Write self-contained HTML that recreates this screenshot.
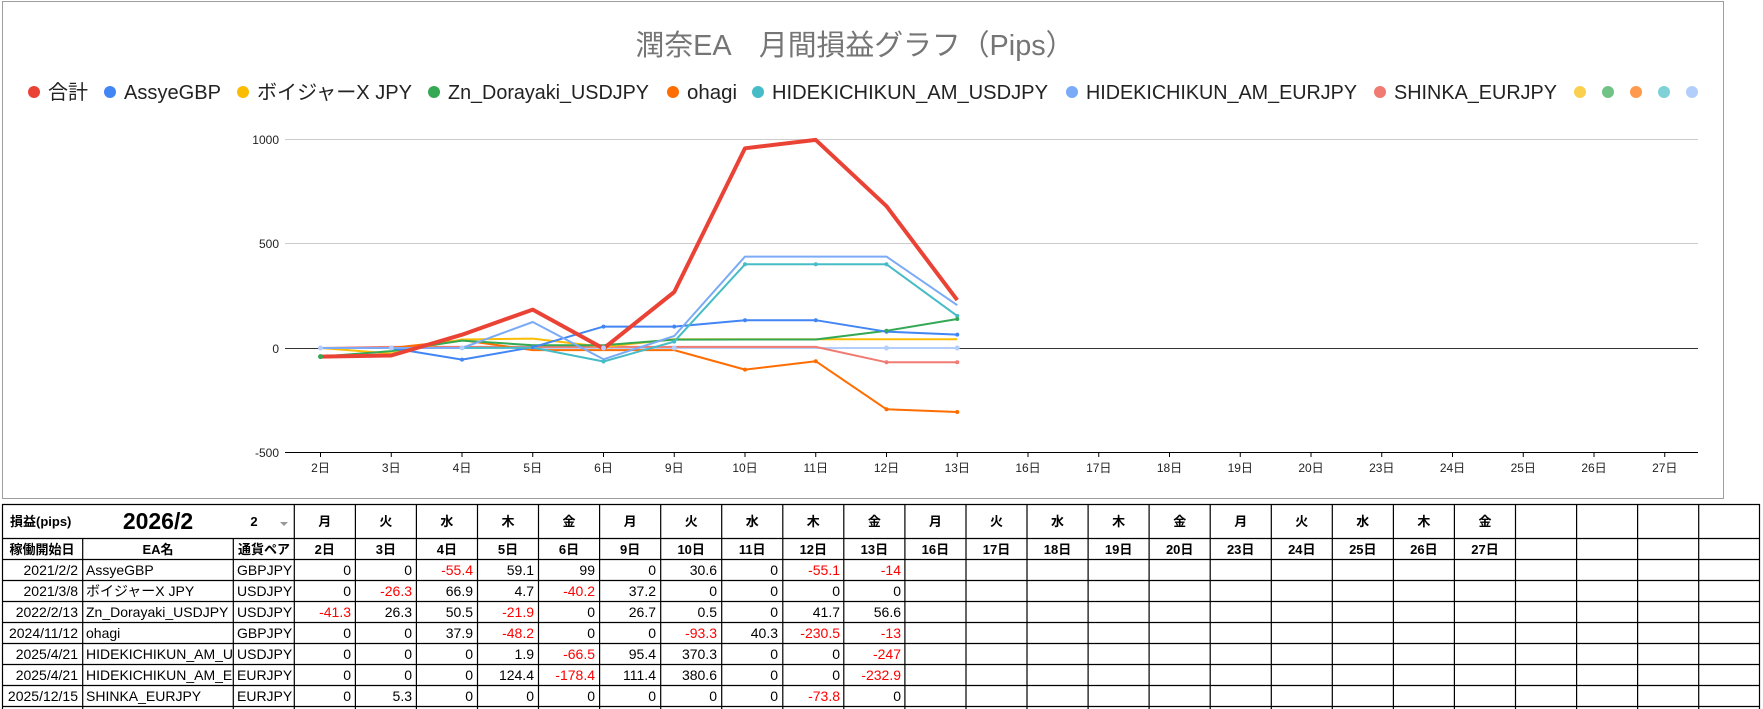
<!DOCTYPE html>
<html><head><meta charset="utf-8"><style>
html,body{margin:0;padding:0;background:#fff;width:1763px;height:709px;overflow:hidden}
svg{display:block;font-family:"Liberation Sans","Noto Sans CJK JP",sans-serif}
.ax{font-size:12px;fill:#222}
.lg{font-size:20px;fill:#222}
.h{font-size:13px;font-weight:bold;fill:#000;text-anchor:middle}
.d{font-size:14px;fill:#000}
.r{text-anchor:end}
.n{fill:#ff0000}
</style></head><body>
<svg width="1763" height="709" viewBox="0 0 1763 709">
<rect x="2.5" y="1.5" width="1721" height="497" fill="#fff" stroke="#9e9e9e"/>
<text x="855" y="55" text-anchor="middle" font-size="29" fill="#757575" textLength="439" lengthAdjust="spacingAndGlyphs">潤奈EA　月間損益グラフ（Pips）</text>
<g class="lg">
<circle cx="34" cy="92" r="6" fill="#ea4335"/><text x="48" y="99">合計</text>
<circle cx="110" cy="92" r="6" fill="#4285f4"/><text x="124" y="99" textLength="97" lengthAdjust="spacingAndGlyphs">AssyeGBP</text>
<circle cx="243" cy="92" r="6" fill="#fbbc04"/><text x="257" y="99" textLength="155" lengthAdjust="spacingAndGlyphs">ボイジャーX JPY</text>
<circle cx="434" cy="92" r="6" fill="#34a853"/><text x="448" y="99" textLength="201" lengthAdjust="spacingAndGlyphs">Zn_Dorayaki_USDJPY</text>
<circle cx="673" cy="92" r="6" fill="#ff6d01"/><text x="687" y="99" textLength="50" lengthAdjust="spacingAndGlyphs">ohagi</text>
<circle cx="758" cy="92" r="6" fill="#46bdc6"/><text x="772" y="99" textLength="276" lengthAdjust="spacingAndGlyphs">HIDEKICHIKUN_AM_USDJPY</text>
<circle cx="1072" cy="92" r="6" fill="#7baaf7"/><text x="1086" y="99" textLength="271" lengthAdjust="spacingAndGlyphs">HIDEKICHIKUN_AM_EURJPY</text>
<circle cx="1380" cy="92" r="6" fill="#f07b72"/><text x="1394" y="99" textLength="163" lengthAdjust="spacingAndGlyphs">SHINKA_EURJPY</text>
<circle cx="1580" cy="92" r="6" fill="#fcd04f"/><circle cx="1608" cy="92" r="6" fill="#71c287"/><circle cx="1636" cy="92" r="6" fill="#ff994d"/><circle cx="1664" cy="92" r="6" fill="#7ed1d7"/><circle cx="1692" cy="92" r="6" fill="#b3cefb"/>
</g>
<line x1="285" y1="139.5" x2="1698" y2="139.5" stroke="#ccc"/>
<line x1="285" y1="243.5" x2="1698" y2="243.5" stroke="#ccc"/>
<line x1="285" y1="348.5" x2="1698" y2="348.5" stroke="#333"/>
<line x1="285" y1="452.5" x2="1698" y2="452.5" stroke="#000"/>
<g class="ax" text-anchor="end"><text x="279" y="144">1000</text><text x="279" y="248">500</text><text x="279" y="353">0</text><text x="279" y="457">-500</text></g>
<g stroke="#000">
<path d="M320.5 452v5M391.25 452v5M462 452v5M532.75 452v5M603.5 452v5M674.25 452v5M745 452v5M815.75 452v5M886.5 452v5M957.25 452v5M1028 452v5M1098.75 452v5M1169.5 452v5M1240.25 452v5M1311 452v5M1381.75 452v5M1452.5 452v5M1523.25 452v5M1594 452v5M1664.75 452v5"/>
</g>
<g class="ax" text-anchor="middle">
<text x="320.5" y="472">2日</text><text x="391.25" y="472">3日</text><text x="462" y="472">4日</text><text x="532.75" y="472">5日</text><text x="603.5" y="472">6日</text><text x="674.25" y="472">9日</text><text x="745" y="472">10日</text><text x="815.75" y="472">11日</text><text x="886.5" y="472">12日</text><text x="957.25" y="472">13日</text><text x="1028" y="472">16日</text><text x="1098.75" y="472">17日</text><text x="1169.5" y="472">18日</text><text x="1240.25" y="472">19日</text><text x="1311" y="472">20日</text><text x="1381.75" y="472">23日</text><text x="1452.5" y="472">24日</text><text x="1523.25" y="472">25日</text><text x="1594" y="472">26日</text><text x="1664.75" y="472">27日</text>
</g>
<g fill="none" stroke-width="2" stroke-linejoin="round">
<polyline stroke="#b3cefb" points="320.5,348 391.25,348 462,348 532.75,348 603.5,348 674.25,348 745,348 815.75,348 886.5,348 957.25,348"/>
<polyline stroke="#f07b72" points="320.5,348 391.25,346.9 462,346.9 532.75,346.9 603.5,346.9 674.25,346.9 745,346.9 815.75,346.9 886.5,362.3 957.25,362.3"/>
<polyline stroke="#ff6d01" points="320.5,348 391.25,348 462,340.1 532.75,350.1 603.5,350.1 674.25,350.1 745,369.6 815.75,361.2 886.5,409.3 957.25,412"/>
<polyline stroke="#fbbc04" points="320.5,348 391.25,353.5 462,339.5 532.75,338.6 603.5,346.9 674.25,339.2 745,339.2 815.75,339.2 886.5,339.2 957.25,339.2"/>
<polyline stroke="#34a853" points="320.5,356.6 391.25,351.1 462,340.6 532.75,345.2 603.5,345.2 674.25,339.6 745,339.5 815.75,339.5 886.5,330.8 957.25,319"/>
<polyline stroke="#4285f4" points="320.5,348 391.25,348 462,359.6 532.75,347.2 603.5,326.6 674.25,326.6 745,320.2 815.75,320.2 886.5,331.7 957.25,334.6"/>
<polyline stroke="#46bdc6" points="320.5,348 391.25,348 462,348 532.75,347.6 603.5,361.5 674.25,341.6 745,264.3 815.75,264.3 886.5,264.3 957.25,315.9"/>
<polyline stroke="#7baaf7" points="320.5,348 391.25,348 462,348 532.75,322 603.5,359.3 674.25,336 745,256.6 815.75,256.6 886.5,256.6 957.25,305.2"/>
<polyline stroke="#ea4335" stroke-width="4" points="320.5,356.6 391.25,355.5 462,334.7 532.75,309.6 603.5,348.5 674.25,292 745,148.3 815.75,139.9 886.5,206.2 957.25,300.1"/>
</g>
<g>
<g fill="#4285f4"><circle cx="320.5" cy="348" r="2"/><circle cx="391.25" cy="348" r="2"/><circle cx="462" cy="359.6" r="2"/><circle cx="532.75" cy="347.2" r="2"/><circle cx="603.5" cy="326.6" r="2"/><circle cx="674.25" cy="326.6" r="2"/><circle cx="745" cy="320.2" r="2"/><circle cx="815.75" cy="320.2" r="2"/><circle cx="886.5" cy="331.7" r="2"/><circle cx="957.25" cy="334.6" r="2"/></g>
<g fill="#46bdc6"><circle cx="603.5" cy="361.5" r="2"/><circle cx="674.25" cy="341.6" r="2"/><circle cx="745" cy="264.3" r="2"/><circle cx="815.75" cy="264.3" r="2"/><circle cx="886.5" cy="264.3" r="2"/><circle cx="957.25" cy="315.9" r="2"/></g>
<g fill="#ff6d01"><circle cx="745" cy="369.6" r="2"/><circle cx="815.75" cy="361.2" r="2"/><circle cx="886.5" cy="409.3" r="2"/><circle cx="957.25" cy="412" r="2"/></g>
<g fill="#34a853"><circle cx="320.5" cy="356.6" r="2.5"/><circle cx="886.5" cy="330.8" r="2"/><circle cx="957.25" cy="319" r="2"/></g>
<g fill="#b3cefb"><circle cx="320.5" cy="348" r="2.5"/><circle cx="391.25" cy="348" r="2.5"/><circle cx="462" cy="348" r="2.5"/><circle cx="603.5" cy="348" r="2.5"/><circle cx="674.25" cy="348" r="2.5"/><circle cx="886.5" cy="348" r="2.5"/><circle cx="957.25" cy="348" r="2.5"/></g>
<g fill="#f07b72"><circle cx="886.5" cy="362.3" r="2"/><circle cx="957.25" cy="362.3" r="2"/></g>
</g>

<!-- table -->
<g stroke="#000" stroke-width="1.2">
<path d="M2 504.5H1760M2 538.5H1760M2 559.5H1760M2 580.5H1760M2 601.5H1760M2 622.5H1760M2 643.5H1760M2 664.5H1760M2 685.5H1760M2 706.5H1760"/>
<path d="M2.5 504V709M82.7 538V709M233.3 538V709"/>
<path d="M294.3 504V709M355.4 504V709M416.4 504V709M477.5 504V709M538.5 504V709M599.6 504V709M660.7 504V709M721.7 504V709M782.8 504V709M843.8 504V709M904.9 504V709M966 504V709M1027 504V709M1088.1 504V709M1149.1 504V709M1210.2 504V709M1271.3 504V709M1332.3 504V709M1393.4 504V709M1454.4 504V709M1515.5 504V709M1576.6 504V709M1637.6 504V709M1698.7 504V709M1759.5 504V709"/>
</g>
<text x="10" y="526" font-size="13" font-weight="bold">損益(pips)</text>
<text x="158" y="529" font-size="23" font-weight="bold" text-anchor="middle">2026/2</text>
<text x="254" y="526" font-size="13" font-weight="bold" text-anchor="middle">2</text>
<path d="M280 522h8l-4 4z" fill="#999"/>
<g class="h">
<text x="324.8" y="526">月</text><text x="385.9" y="526">火</text><text x="446.9" y="526">水</text><text x="508" y="526">木</text><text x="569" y="526">金</text><text x="630.1" y="526">月</text><text x="691.2" y="526">火</text><text x="752.2" y="526">水</text><text x="813.3" y="526">木</text><text x="874.4" y="526">金</text><text x="935.4" y="526">月</text><text x="996.5" y="526">火</text><text x="1057.5" y="526">水</text><text x="1118.6" y="526">木</text><text x="1179.7" y="526">金</text><text x="1240.7" y="526">月</text><text x="1301.8" y="526">火</text><text x="1362.8" y="526">水</text><text x="1423.9" y="526">木</text><text x="1485" y="526">金</text>
<text x="42" y="554">稼働開始日</text><text x="158" y="554">EA名</text><text x="264" y="554">通貨ペア</text>
<text x="324.8" y="554">2日</text><text x="385.9" y="554">3日</text><text x="446.9" y="554">4日</text><text x="508" y="554">5日</text><text x="569" y="554">6日</text><text x="630.1" y="554">9日</text><text x="691.2" y="554">10日</text><text x="752.2" y="554">11日</text><text x="813.3" y="554">12日</text><text x="874.4" y="554">13日</text><text x="935.4" y="554">16日</text><text x="996.5" y="554">17日</text><text x="1057.5" y="554">18日</text><text x="1118.6" y="554">19日</text><text x="1179.7" y="554">20日</text><text x="1240.7" y="554">23日</text><text x="1301.8" y="554">24日</text><text x="1362.8" y="554">25日</text><text x="1423.9" y="554">26日</text><text x="1485" y="554">27日</text>
</g>
<g class="d">
<g class="r"><text x="78" y="575">2021/2/2</text><text x="78" y="596">2021/3/8</text><text x="78" y="617">2022/2/13</text><text x="78" y="638">2024/11/12</text><text x="78" y="659">2025/4/21</text><text x="78" y="680">2025/4/21</text><text x="78" y="701">2025/12/15</text></g>
<text x="86" y="575">AssyeGBP</text><text x="86" y="596">ボイジャーX JPY</text><text x="86" y="617">Zn_Dorayaki_USDJPY</text><text x="86" y="638">ohagi</text>
<svg x="83" y="640" width="150" height="50"><text x="3" y="19" class="d">HIDEKICHIKUN_AM_US</text><text x="3" y="40" class="d">HIDEKICHIKUN_AM_EU</text></svg>
<text x="86" y="701">SHINKA_EURJPY</text>
<text x="237" y="575">GBPJPY</text><text x="237" y="596">USDJPY</text><text x="237" y="617">USDJPY</text><text x="237" y="638">GBPJPY</text><text x="237" y="659">USDJPY</text><text x="237" y="680">EURJPY</text><text x="237" y="701">EURJPY</text>
<g class="r">
<text x="351" y="575">0</text><text x="412" y="575">0</text><text x="473" y="575" class="n">-55.4</text><text x="534" y="575">59.1</text><text x="595" y="575">99</text><text x="656" y="575">0</text><text x="717" y="575">30.6</text><text x="778" y="575">0</text><text x="840" y="575" class="n">-55.1</text><text x="901" y="575" class="n">-14</text>
<text x="351" y="596">0</text><text x="412" y="596" class="n">-26.3</text><text x="473" y="596">66.9</text><text x="534" y="596">4.7</text><text x="595" y="596" class="n">-40.2</text><text x="656" y="596">37.2</text><text x="717" y="596">0</text><text x="778" y="596">0</text><text x="840" y="596">0</text><text x="901" y="596">0</text>
<text x="351" y="617" class="n">-41.3</text><text x="412" y="617">26.3</text><text x="473" y="617">50.5</text><text x="534" y="617" class="n">-21.9</text><text x="595" y="617">0</text><text x="656" y="617">26.7</text><text x="717" y="617">0.5</text><text x="778" y="617">0</text><text x="840" y="617">41.7</text><text x="901" y="617">56.6</text>
<text x="351" y="638">0</text><text x="412" y="638">0</text><text x="473" y="638">37.9</text><text x="534" y="638" class="n">-48.2</text><text x="595" y="638">0</text><text x="656" y="638">0</text><text x="717" y="638" class="n">-93.3</text><text x="778" y="638">40.3</text><text x="840" y="638" class="n">-230.5</text><text x="901" y="638" class="n">-13</text>
<text x="351" y="659">0</text><text x="412" y="659">0</text><text x="473" y="659">0</text><text x="534" y="659">1.9</text><text x="595" y="659" class="n">-66.5</text><text x="656" y="659">95.4</text><text x="717" y="659">370.3</text><text x="778" y="659">0</text><text x="840" y="659">0</text><text x="901" y="659" class="n">-247</text>
<text x="351" y="680">0</text><text x="412" y="680">0</text><text x="473" y="680">0</text><text x="534" y="680">124.4</text><text x="595" y="680" class="n">-178.4</text><text x="656" y="680">111.4</text><text x="717" y="680">380.6</text><text x="778" y="680">0</text><text x="840" y="680">0</text><text x="901" y="680" class="n">-232.9</text>
<text x="351" y="701">0</text><text x="412" y="701">5.3</text><text x="473" y="701">0</text><text x="534" y="701">0</text><text x="595" y="701">0</text><text x="656" y="701">0</text><text x="717" y="701">0</text><text x="778" y="701">0</text><text x="840" y="701" class="n">-73.8</text><text x="901" y="701">0</text>
</g>
</g>
</svg>
</body></html>
